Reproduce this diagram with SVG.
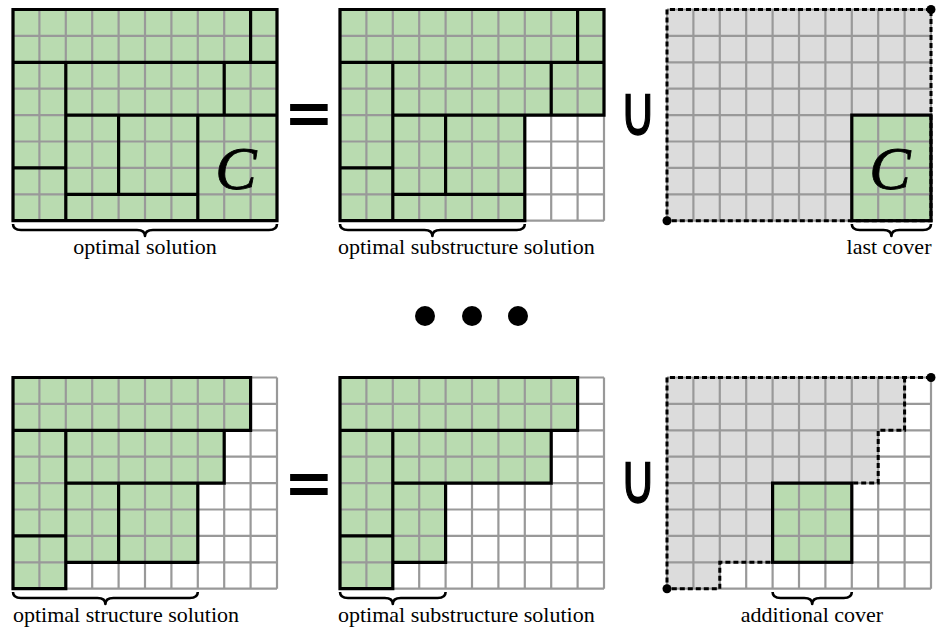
<svg xmlns="http://www.w3.org/2000/svg" xmlns:xlink="http://www.w3.org/1999/xlink" width="938" height="630" viewBox="0 0 938 630">
<style>
.bg{fill:#ffffff}
.green{fill:#b9dbb0}
.gray{fill:#dcdcdc}
.grid{fill:none;stroke:#999999;stroke-width:2.2}
.thick{fill:none;stroke:#000000;stroke-width:3.2;stroke-linejoin:miter;stroke-linecap:square}
.dash{fill:none;stroke:#000000;stroke-width:3;stroke-dasharray:5 3}
.dot{fill:#000000}
.brace{fill:none;stroke:#000000;stroke-width:2.6;stroke-linejoin:round}
.lbl{font-family:"Liberation Serif","Times New Roman",serif;font-size:22px;fill:#000000}
.cl{font-family:"Liberation Serif","Times New Roman",serif;font-style:italic;font-size:62px;fill:#000000;stroke:#000000;stroke-width:0.8;text-anchor:middle}
.op{font-family:"DejaVu Sans",sans-serif;font-weight:bold;fill:#000000;text-anchor:middle}
.cup{font-family:"DejaVu Sans",sans-serif;fill:#000000;stroke:#000000;stroke-width:1.4;text-anchor:middle;font-size:70px}
</style>
<defs>
<path id="gridlines" class="grid" d="M0 0V211.2M26.4 0V211.2M52.8 0V211.2M79.2 0V211.2M105.6 0V211.2M132 0V211.2M158.4 0V211.2M184.8 0V211.2M211.2 0V211.2M237.6 0V211.2M264 0V211.2M0 0H264M0 26.4H264M0 52.8H264M0 79.2H264M0 105.6H264M0 132H264M0 158.4H264M0 184.8H264M0 211.2H264"/>
</defs>

<g id="panel1" transform="translate(13 9.5)">
<rect class="green" x="0" y="0" width="264" height="211.2"/>
<use xlink:href="#gridlines"/>
<path class="thick" d="M0 0H264V211.2H0Z M0 52.8H264 M237.6 0V52.8 M52.8 52.8V211.2 M0 158.4H52.8 M211.2 52.8V105.6 M52.8 105.6H264 M105.6 105.6V184.8 M184.8 105.6V211.2 M52.8 184.8H184.8"/>
<text class="cl" x="223" y="179">C</text>
</g>

<g id="panel2" transform="translate(340 9.5)">
<rect class="bg" x="0" y="0" width="264" height="211.2"/>
<path class="green" d="M0 0H264V105.6H184.8V211.2H0Z"/>
<use xlink:href="#gridlines"/>
<path class="thick" d="M0 0H264V105.6H184.8V211.2H0Z M0 52.8H264 M237.6 0V52.8 M52.8 52.8V211.2 M0 158.4H52.8 M211.2 52.8V105.6 M52.8 105.6H184.8 M105.6 105.6V184.8 M52.8 184.8H184.8"/>
</g>

<g id="panel3" transform="translate(667 9.5)">
<rect class="gray" x="0" y="0" width="264" height="211.2"/>
<rect class="green" x="184.8" y="105.6" width="79.2" height="105.6"/>
<use xlink:href="#gridlines"/>
<path class="dash" d="M264 0H0V211.2H264V0"/>
<rect class="thick" x="184.8" y="105.6" width="79.2" height="105.6"/>
<circle class="dot" cx="264" cy="0" r="4.5"/>
<circle class="dot" cx="0" cy="211.2" r="4.5"/>
<text class="cl" x="223" y="179">C</text>
</g>

<g id="panel4" transform="translate(13 377.5)">
<rect class="bg" x="0" y="0" width="264" height="211.2"/>
<path class="green" d="M0 0H237.6V52.8H211.2V105.6H184.8V184.8H52.8V211.2H0Z"/>
<use xlink:href="#gridlines"/>
<path class="thick" d="M0 0H237.6V52.8H211.2V105.6H184.8V184.8H52.8V211.2H0Z M0 52.8H237.6 M52.8 52.8V211.2 M0 158.4H52.8 M52.8 105.6H211.2 M105.6 105.6V184.8"/>
</g>

<g id="panel5" transform="translate(340 377.5)">
<rect class="bg" x="0" y="0" width="264" height="211.2"/>
<path class="green" d="M0 0H237.6V52.8H211.2V105.6H105.6V184.8H52.8V211.2H0Z"/>
<use xlink:href="#gridlines"/>
<path class="thick" d="M0 0H237.6V52.8H211.2V105.6H105.6V184.8H52.8V211.2H0Z M0 52.8H237.6 M52.8 52.8V211.2 M0 158.4H52.8 M52.8 105.6H211.2"/>
</g>

<g id="panel6" transform="translate(667 377.5)">
<rect class="bg" x="0" y="0" width="264" height="211.2"/>
<path class="gray" d="M0 0H237.6V52.8H211.2V105.6H105.6V184.8H52.8V211.2H0Z"/>
<rect class="green" x="105.6" y="105.6" width="79.2" height="79.2"/>
<use xlink:href="#gridlines"/>
<path class="dash" d="M264 0H0V211.2H52.8V184.8H105.6 M237.6 0V52.8H211.2V105.6H184.8"/>
<rect class="thick" x="105.6" y="105.6" width="79.2" height="79.2"/>
<circle class="dot" cx="264" cy="0" r="4.5"/>
<circle class="dot" cx="0" cy="211.2" r="4.5"/>
</g>

<g id="braces">
<path class="brace" d="M13 224Q13 230 21 230H137Q145 230 145 236Q145 230 153 230H269Q277 230 277 224"/>
<path class="brace" d="M340 224Q340 230 348 230H424.4Q432.4 230 432.4 236Q432.4 230 440.4 230H516.8Q524.8 230 524.8 224"/>
<path class="brace" d="M851.8 224Q851.8 230 859.8 230H883.4Q891.4 230 891.4 236Q891.4 230 899.4 230H923Q931 230 931 224"/>
<path class="brace" d="M13 592Q13 598 21 598H97.4Q105.4 598 105.4 604Q105.4 598 113.4 598H189.8Q197.8 598 197.8 592"/>
<path class="brace" d="M340 592Q340 598 348 598H384.8Q392.8 598 392.8 604Q392.8 598 400.8 598H437.6Q445.6 598 445.6 592"/>
<path class="brace" d="M772.6 592Q772.6 598 780.6 598H804.2Q812.2 598 812.2 604Q812.2 598 820.2 598H843.8Q851.8 598 851.8 592"/>
</g>

<g id="labels">
<text class="lbl" x="145" y="254" text-anchor="middle">optimal solution</text>
<text class="lbl" x="338" y="254">optimal substructure solution</text>
<text class="lbl" x="889" y="254" text-anchor="middle">last cover</text>
<text class="lbl" x="13" y="622">optimal structure solution</text>
<text class="lbl" x="338" y="622">optimal substructure solution</text>
<text class="lbl" x="812" y="622" text-anchor="middle">additional cover</text>
</g>

<g id="operators">
<text class="op" x="309" y="134" font-size="60">=</text>
<text class="op" x="309" y="504" font-size="60">=</text>
<text class="cup" transform="translate(638 135) scale(0.72 1)">∪</text>
<text class="cup" transform="translate(638 503) scale(0.72 1)">∪</text>
<circle class="dot" cx="425" cy="316" r="10"/>
<circle class="dot" cx="472" cy="316" r="10"/>
<circle class="dot" cx="518" cy="316" r="10"/>
</g>
</svg>
